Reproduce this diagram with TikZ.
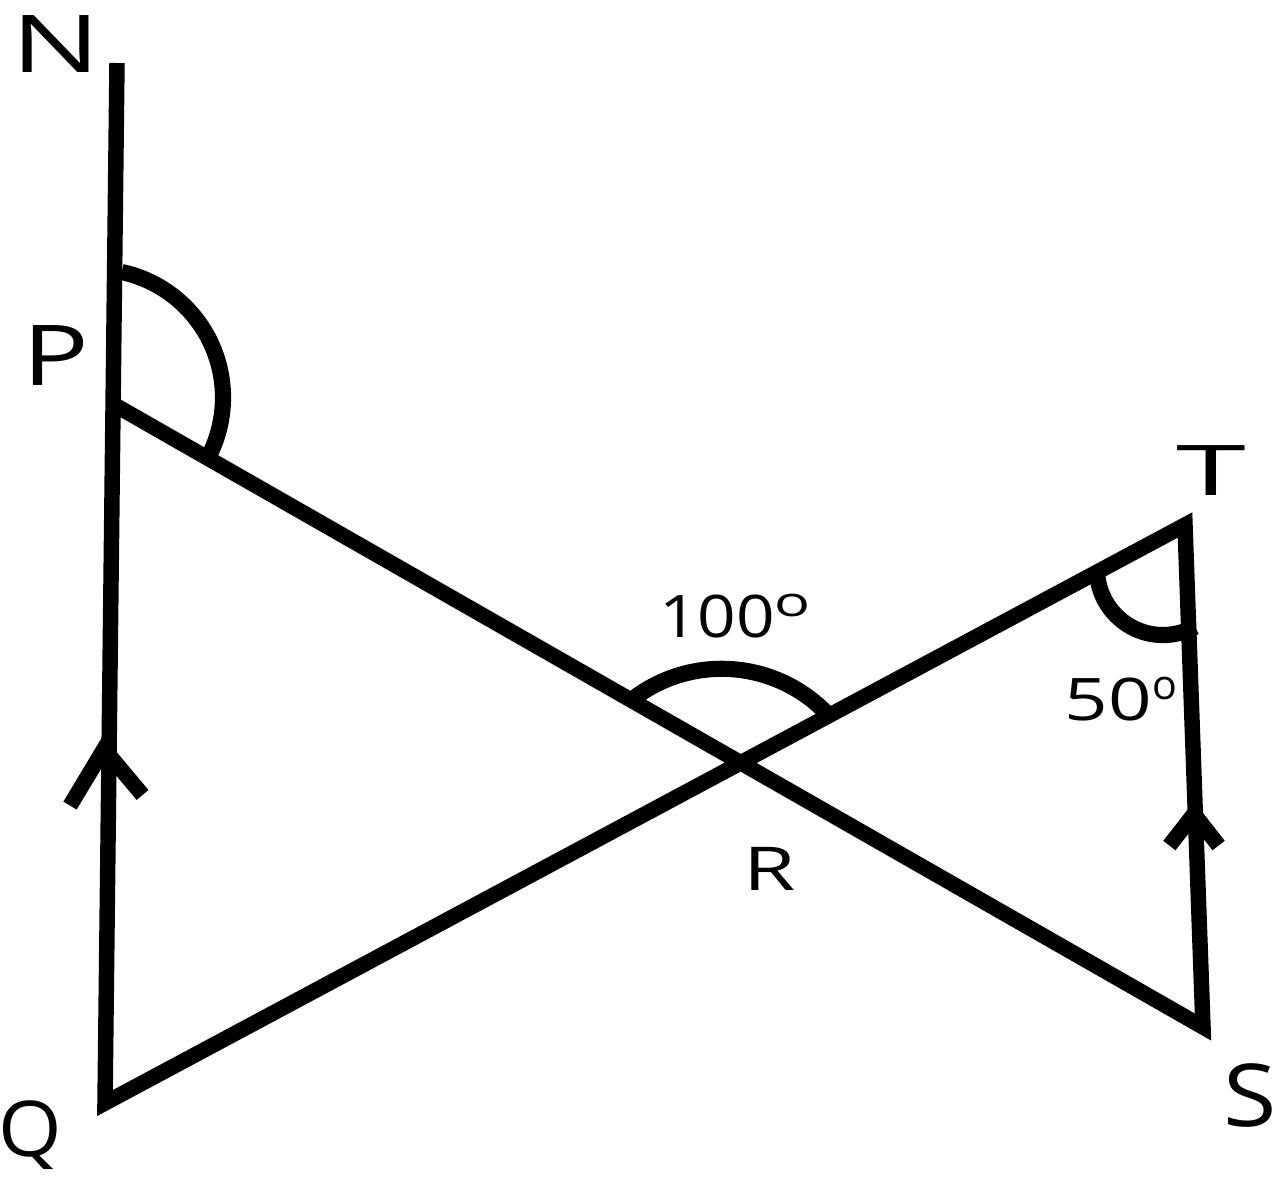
\documentclass[tikz,border=0pt]{standalone}
\usepackage{fontspec}
\setmainfont{Open Sans}
\usepackage{graphicx}
\usetikzlibrary{calc}

\newcommand{\lab}[3]{\fontsize{#1}{#1}\selectfont\scalebox{#2}[1]{#3}}
\newcommand{\dg}[1]{\raisebox{5.7pt}{\fontsize{11.7pt}{12pt}\selectfont\scalebox{#1}[1]{o}}}

\begin{document}
\begin{tikzpicture}[
    fig/.style={line width=4.4pt, line join=miter},
    anglemark/.style={line width=4.6pt},
    chev/.style={line width=4.4pt, line join=miter},
    lbl/.style={inner sep=0pt, anchor=base}]
    \useasboundingbox (0,0) rectangle (12.81,-11.82);

    % --- Positions ---
    \coordinate (N) at (1.17,-0.63);
    \coordinate (P) at (1.13,-4.04);
    \coordinate (Q) at (1.05,-11.03);
    \coordinate (T) at (11.85,-5.25);
    \coordinate (S) at (12.03,-10.27);
    \coordinate (R) at (intersection of P--S and Q--T);

    % --- Lines ---
    \draw[fig] (N) -- (Q) -- (T) -- (S) -- (P);

    % --- Angle marks ---
    \draw[anglemark] ($(P)+(-0.184,0.065)$) ++(77.8:1.284) arc[start angle=77.8, end angle=-28, radius=1.284];
    \draw[anglemark] ($(R)+(-0.19,-0.52)$) ++(128:1.46) arc[start angle=128, end angle=44, radius=1.46];
    \draw[anglemark] ($(T)+(-0.22,-0.44)$) ++(182:0.66) arc[start angle=182, end angle=299, radius=0.66];

    % --- Parallel arrows ---
    \coordinate (a1) at (1.04,-7.49);
    \coordinate (a2) at (11.94,-8.14);
    \draw[chev] ($(a1)+(239:0.66)$) -- (a1) -- ($(a1)+(310:0.60)$);
    \draw[chev] ($(a2)+(232:0.40)$) -- (a2) -- ($(a2)+(308:0.40)$);

    % --- Labels ---
    \node[lbl] (lN) at (0.56,-0.72) {\lab{22.7pt}{1.48}{N}};
    \node[lbl] (lP) at (0.56,-3.85) {\lab{23.9pt}{1.32}{P}};
    \node[lbl] (lQ) at (0.30,-11.56) {\lab{21.9pt}{1.06}{Q}};
    \node[lbl] (lS) at (12.50,-11.26) {\lab{24.7pt}{1.12}{S}};
    \node[lbl] (lT) at (12.11,-4.95) {\lab{19.9pt}{1.8}{T}};
    \node[lbl] (lR) at (7.70,-8.90) {\lab{17.2pt}{1.4}{R}};
    \node[lbl] (lR100) at (7.35,-6.37) {\lab{16.7pt}{1.15}{100}\dg{1.45}};
    \node[lbl] (lT50) at (11.21,-7.20) {\lab{16.7pt}{1.3}{50}\dg{1.0}};
\end{tikzpicture}
\end{document}
